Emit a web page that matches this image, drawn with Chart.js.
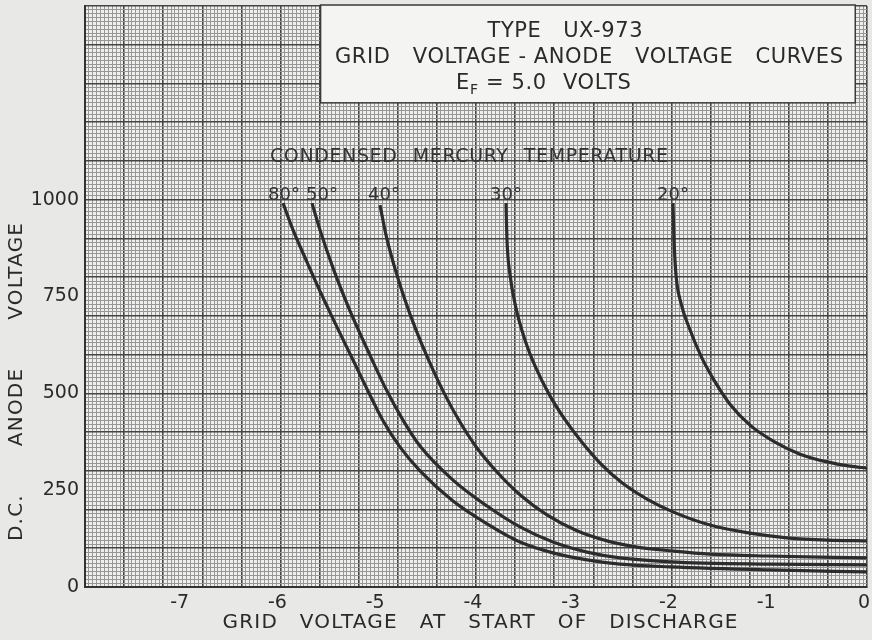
<!DOCTYPE html>
<html>
<head>
<meta charset="utf-8">
<title>UX-973 grid voltage / anode voltage</title>
<script src="https://cdn.jsdelivr.net/npm/chart.js@4.4.1/dist/chart.umd.min.js"></script>
<style>
  html, body { margin: 0; padding: 0; background: #e8e8e6; }
  #wrap { width: 872px; height: 640px; }
</style>
</head>
<body>
<div id="wrap"><canvas id="chart" width="872" height="640"></canvas></div>
<script>
// Each curve: [grid volts at start of discharge, d.c. anode volts]
const tempLabels = ['80°', '50°', '40°', '30°', '20°'];

const curve80 = [
    [-5.974, 991], [-5.872, 922], [-5.729, 839], [-5.596, 764], [-5.422, 671],
    [-5.258, 586], [-5.105, 506], [-4.951, 429], [-4.777, 361], [-4.573, 300],
    [-4.235, 222], [-3.887, 163], [-3.550, 116], [-3.212, 88], [-2.864, 70],
    [-2.527, 59], [-2.015, 52], [-0.992, 44], [0, 39]
];
const curve50 = [
    [-5.678, 991], [-5.596, 922], [-5.463, 824], [-5.289, 713], [-5.115, 615],
    [-4.931, 516], [-4.747, 431], [-4.573, 364], [-4.235, 276], [-3.887, 209],
    [-3.550, 155], [-3.212, 116], [-2.864, 90], [-2.527, 75], [-2.015, 65],
    [-0.992, 59], [0, 57]
];
const curve40 = [
    [-4.982, 986], [-4.921, 909], [-4.839, 831], [-4.737, 749], [-4.614, 664],
    [-4.471, 578], [-4.317, 496], [-4.164, 426], [-3.990, 359], [-3.785, 297],
    [-3.550, 238], [-3.274, 186], [-2.967, 145], [-2.660, 119], [-2.353, 103],
    [-1.985, 93], [-1.606, 85], [-1.023, 80], [0, 75]
];
const curve30 = [
    [-3.693, 991], [-3.683, 896], [-3.652, 806], [-3.591, 720], [-3.499, 638],
    [-3.386, 565], [-3.253, 498], [-3.100, 436], [-2.926, 377], [-2.731, 320],
    [-2.506, 269], [-2.251, 227], [-1.985, 194], [-1.606, 160], [-1.197, 139],
    [-0.818, 127], [-0.409, 121], [0, 119]
];
const curve20 = [
    [-1.985, 991], [-1.974, 896], [-1.954, 806], [-1.903, 733], [-1.811, 664],
    [-1.698, 596], [-1.565, 534], [-1.402, 472], [-1.197, 418], [-0.941, 374],
    [-0.685, 343], [-0.409, 323], [-0.174, 312], [0, 307]
];

const xTickLabels = [-7, -6, -5, -4, -3, -2, -1, 0];
const yTickLabels = [0, 250, 500, 750, 1000];

const xMin = -8, xMax = 0, xFine = 0.04;   // 10 fine squares per 0.4 V
const yMin = 0, yMax = 1500, yFine = 10;   // 10 fine squares per 100 V

const ink = '#2a2a2a';
const heavyLine = '#454545';
const fineLine = '#979797';
const font = 'DejaVu Sans';

// lettering: words are split on double spaces and spread over a width
function fitText(ctx, text, cx, cy, width, spacing = 1.2) {
    ctx.letterSpacing = spacing + 'px';
    const parts = text.split('  ');
    const widths = parts.map(p => ctx.measureText(p).width - spacing);
    const used = widths.reduce((a, b) => a + b, 0);
    const gap = parts.length > 1 ? (width - used) / (parts.length - 1) : 0;
    let pos = parts.length > 1 ? cx - width / 2 : cx - used / 2;
    ctx.textAlign = 'left';
    parts.forEach((p, i) => {
        ctx.fillText(p, pos, cy);
        pos += widths[i] + gap;
    });
    ctx.letterSpacing = '0px';
}

const paper = {
    id: 'paper',
    beforeDraw(chart) {
        const { ctx, chartArea: a } = chart;
        ctx.save();
        ctx.fillStyle = '#e8e8e6';
        ctx.fillRect(0, 0, chart.width, chart.height);
        ctx.fillStyle = '#efefed';
        ctx.fillRect(a.left, a.top, a.right - a.left, a.bottom - a.top);
        ctx.restore();
    }
};

const notes = {
    id: 'notes',
    afterDatasetsDraw(chart) {
        const { ctx, scales: { x, y } } = chart;
        ctx.save();
        ctx.textBaseline = 'middle';

        // title box
        const bl = x.getPixelForValue(-5.59), br = x.getPixelForValue(-0.12);
        const bt = chart.chartArea.top - 1, bb = y.getPixelForValue(1250);
        ctx.fillStyle = '#f4f4f2';
        ctx.fillRect(bl, bt, br - bl, bb - bt);
        ctx.strokeStyle = '#3a3a3a';
        ctx.lineWidth = 1.5;
        ctx.strokeRect(bl, bt, br - bl, bb - bt);

        ctx.fillStyle = ink;
        ctx.font = '21px "' + font + '"';
        fitText(ctx, 'TYPE  UX-973', 565, 32, 155, 0.6);
        fitText(ctx, 'GRID  VOLTAGE - ANODE  VOLTAGE  CURVES', 589, 58, 508, 0.6);
        ctx.textAlign = 'left';
        ctx.letterSpacing = '0.6px';
        ctx.fillText('E', 456, 84);
        ctx.font = '14px "' + font + '"';
        ctx.fillText('F', 470, 90);
        ctx.font = '21px "' + font + '"';
        ctx.fillText('= 5.0', 486, 84);
        ctx.fillText('VOLTS', 563, 84);
        ctx.letterSpacing = '0px';

        // temperature labels
        ctx.fillStyle = '#343434';
        ctx.font = '19px "' + font + '"';
        fitText(ctx, 'CONDENSED  MERCURY  TEMPERATURE', 469, 157, 398, 0.6);

        const curves = [curve80, curve50, curve40, curve30, curve20];
        const nudge = [1, 10, 4, 0, 0];
        ctx.font = '18px "' + font + '"';
        ctx.textAlign = 'center';
        curves.forEach((c, i) => {
            const px = x.getPixelForValue(c[0][0]) + nudge[i];
            ctx.fillText(tempLabels[i], px, y.getPixelForValue(1012));
        });

        // axis titles
        ctx.fillStyle = ink;
        ctx.font = '20px "' + font + '"';
        fitText(ctx, 'GRID  VOLTAGE  AT  START  OF  DISCHARGE', 480, 623, 515);
        ctx.translate(17, 382);
        ctx.rotate(-Math.PI / 2);
        fitText(ctx, 'D.C.  ANODE  VOLTAGE', 0, 0, 318);
        ctx.restore();
    }
};

const toPoints = arr => arr.map(([gx, ay]) => ({ x: gx, y: ay }));

const lineStyle = {
    showLine: true,
    borderColor: '#2c2c2c',
    borderWidth: 3.2,
    pointRadius: 0,
    cubicInterpolationMode: 'monotone',
    fill: false
};

new Chart(document.getElementById('chart'), {
    type: 'scatter',
    data: {
        datasets: [
            { label: tempLabels[0], data: toPoints(curve80), ...lineStyle },
            { label: tempLabels[1], data: toPoints(curve50), ...lineStyle },
            { label: tempLabels[2], data: toPoints(curve40), ...lineStyle },
            { label: tempLabels[3], data: toPoints(curve30), ...lineStyle },
            { label: tempLabels[4], data: toPoints(curve20), ...lineStyle }
        ]
    },
    options: {
        responsive: false,
        animation: false,
        layout: { padding: { top: 6, right: 5, bottom: 0, left: 0 } },
        plugins: {
            legend: { display: false },
            tooltip: { enabled: false }
        },
        scales: {
            x: {
                type: 'linear',
                min: xMin,
                max: xMax,
                afterBuildTicks: scale => {
                    const n = Math.round((xMax - xMin) / xFine);
                    scale.ticks = [];
                    for (let i = 0; i <= n; i++) scale.ticks.push({ value: xMin + i * xFine });
                },
                afterFit: scale => {
                    scale.height = 53;
                    scale.paddingLeft = 0;
                    scale.paddingRight = 0;
                },
                ticks: {
                    autoSkip: false,
                    maxRotation: 0,
                    padding: 5,
                    color: ink,
                    font: { family: font, size: 19 },
                    callback: value => {
                        const hit = xTickLabels.find(v => Math.abs(v - value) < 1e-6);
                        return hit === undefined ? '' : hit + ' ';
                    }
                },
                grid: {
                    drawTicks: false,
                    color: c => c.index % 10 === 0 ? heavyLine : fineLine,
                    lineWidth: c => c.index % 10 === 0 ? 1.6 : 1
                },
                border: { color: '#333', width: 2 }
            },
            y: {
                type: 'linear',
                min: yMin,
                max: yMax,
                afterBuildTicks: scale => {
                    const n = Math.round((yMax - yMin) / yFine);
                    scale.ticks = [];
                    for (let i = 0; i <= n; i++) scale.ticks.push({ value: yMin + i * yFine });
                },
                afterFit: scale => {
                    scale.width = 85;
                    scale.paddingTop = 0;
                    scale.paddingBottom = 0;
                },
                ticks: {
                    autoSkip: false,
                    padding: 6,
                    color: ink,
                    font: { family: font, size: 19 },
                    callback: value => yTickLabels.includes(value) ? String(value) : ''
                },
                grid: {
                    drawTicks: false,
                    color: c => c.index % 10 === 0 ? heavyLine : fineLine,
                    lineWidth: c => c.index % 10 === 0 ? 1.6 : 1
                },
                border: { color: '#333', width: 2 }
            }
        }
    },
    plugins: [paper, notes]
});
</script>
</body>
</html>
